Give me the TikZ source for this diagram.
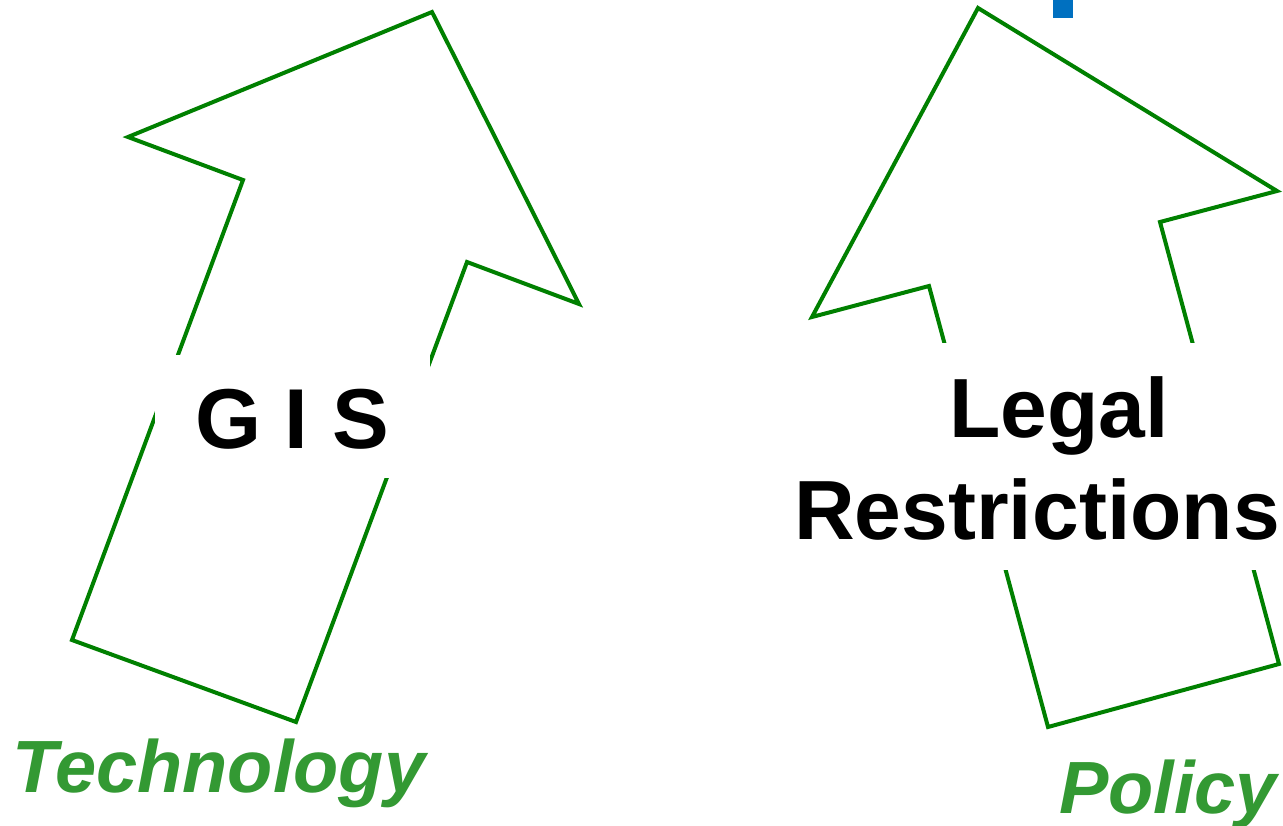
\documentclass[tikz,border=0pt]{standalone}
\usepackage{fontspec}
\setmainfont{Liberation Sans}
\definecolor{arrowgreen}{HTML}{008000}
\definecolor{textgreen}{HTML}{339933}
\definecolor{markblue}{HTML}{0070C0}
\begin{document}
\begin{tikzpicture}[x=1pt,y=-1pt,
  arrowline/.style={draw=arrowgreen,line width=4pt,line join=miter},
  cover/.style={fill=white,draw=none},
  bigtext/.style={inner sep=0pt,anchor=base,font=\fontsize{84}{100}\selectfont\bfseries},
  catlabel/.style={inner sep=0pt,anchor=base,text=textgreen,font=\fontsize{74}{85}\selectfont\bfseries\itshape}]
\useasboundingbox (0,0) rectangle (1283,825);
\fill[white] (0,0) rectangle (1283,825);
% blue mark
\fill[markblue] (1053,0) rectangle (1073,18);
% left arrow
\draw[arrowline] (72,640) -- (243,180) -- (128,137) -- (432,12) -- (579,304) -- (467,262) -- (296,722) -- cycle;
% right arrow
\draw[arrowline] (1048,727) -- (1279,664) -- (1160,222) -- (1277,191) -- (978,8) -- (812,317) -- (929,286) -- cycle;
% text covers
\fill[cover] (155,355) rectangle (430,478);
\fill[cover] (765,343) rectangle (1283,570);
\node[bigtext,font=\fontsize{85}{100}\selectfont\bfseries] (gis) at (292,448) {G I S};
\node[bigtext] (legal) at (1059,437) {Legal};
\node[bigtext] (restr) at (1037,539) {Restrictions};
\node[catlabel] (tech) at (219,792) {Technology};
\node[catlabel] (policy) at (1168,813) {Policy};
\end{tikzpicture}
\end{document}
